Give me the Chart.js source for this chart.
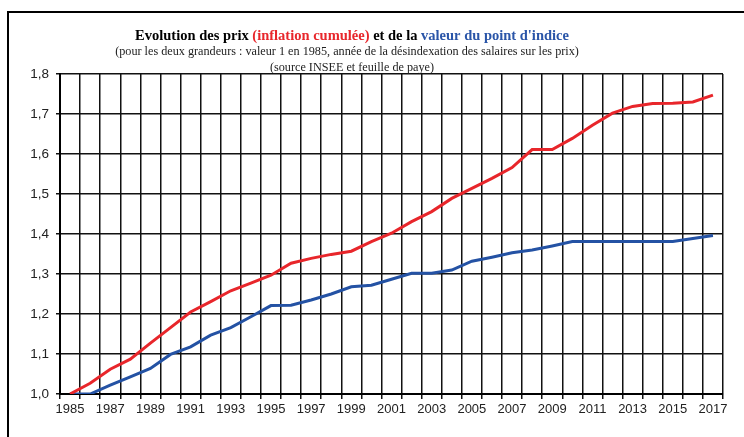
<!DOCTYPE html>
<html>
<head>
<meta charset="utf-8">
<script src="https://cdn.jsdelivr.net/npm/chart.js@4"></script>
<style>
  html, body { margin: 0; padding: 0; background: #fff; }
  #box { width: 744px; height: 437px; }
</style>
</head>
<body>
<div id="box"><canvas id="myChart"></canvas></div>
<script>
Chart.defaults.font.family = "'Liberation Sans', Arial, sans-serif";
Chart.defaults.font.size = 13;
Chart.defaults.color = "#222";

const years = [1985,1986,1987,1988,1989,1990,1991,1992,1993,1994,1995,1996,1997,1998,1999,2000,
  2001,2002,2003,2004,2005,2006,2007,2008,2009,2010,2011,2012,2013,2014,2015,2016,2017];

// prix (inflation cumulee), base 1 en 1985
const prix = [1.000,1.027,1.062,1.087,1.127,1.166,1.205,1.231,1.258,1.277,1.297,1.327,1.339,1.349,1.357,1.381,
  1.402,1.431,1.456,1.489,1.514,1.539,1.566,1.611,1.611,1.639,1.672,1.702,1.719,1.726,1.727,1.730,1.747];

// valeur du point d'indice, base 1 en 1985
const pointIndice = [1.000,1.000,1.022,1.043,1.064,1.099,1.118,1.147,1.166,1.193,1.221,1.222,1.235,1.250,1.268,1.272,
  1.287,1.302,1.302,1.310,1.332,1.342,1.353,1.360,1.370,1.381,1.381,1.381,1.381,1.381,1.381,1.389,1.396];

const yTicks = [1.0,1.1,1.2,1.3,1.4,1.5,1.6,1.7,1.8];

const titleLines = [
  [["Evolution des prix ", "#000"], ["(inflation cumulée)", "#e8262b"], [" et de la ", "#000"], ["valeur du point d'indice", "#2a55a8"]],
  "(pour les deux grandeurs : valeur 1 en 1985, année de la désindexation des salaires sur les prix)",
  "(source INSEE et feuille de paye)"
];

const frameAndTitle = {
  id: 'frameAndTitle',
  afterDraw(chart) {
    const ctx = chart.ctx;
    ctx.save();
    // outer frame (top and left only)
    ctx.strokeStyle = '#000';
    ctx.lineWidth = 2;
    ctx.beginPath();
    ctx.moveTo(8, 437);
    ctx.lineTo(8, 12);
    ctx.lineTo(744, 12);
    ctx.stroke();

    const cx = 352;
    ctx.textBaseline = 'middle';
    // line 1, multi colour
    ctx.font = "bold 14.5px 'Liberation Serif', 'Times New Roman', serif";
    let total = 0;
    titleLines[0].forEach(p => total += ctx.measureText(p[0]).width);
    let x = cx - total / 2;
    ctx.textAlign = 'left';
    titleLines[0].forEach(p => {
      ctx.fillStyle = p[1];
      ctx.fillText(p[0], x, 36);
      x += ctx.measureText(p[0]).width;
    });
    ctx.textAlign = 'center';
    ctx.fillStyle = '#222';
    ctx.font = "12.2px 'Liberation Serif', 'Times New Roman', serif";
    ctx.fillText(titleLines[1], 347, 52);
    ctx.fillText(titleLines[2], cx, 68);
    ctx.restore();
  }
};

const data = {
  labels: years,
  datasets: [{
    label: 'Prix',
    data: prix,
    borderColor: '#e8262b',
    borderWidth: 3,
    pointRadius: 0,
    tension: 0,
    fill: false
  }, {
    label: "Point d'indice",
    data: pointIndice,
    borderColor: '#2452a4',
    borderWidth: 3,
    pointRadius: 0,
    tension: 0,
    fill: false
  }]
};

const chartOptions = {
  responsive: true,
  maintainAspectRatio: false,
  animation: false,
  layout: { padding: { left: 0, right: 21, top: 74, bottom: 0 } },
  plugins: {
    legend: { display: false },
    title: { display: false },
    tooltip: { enabled: false }
  },
  scales: {
    x: {
      type: 'category',
      offset: true,
      afterFit(scale) { scale.height = 43; },
      grid: { offset: true, color: '#111', lineWidth: 1.5, tickLength: 5, drawTicks: true },
      border: { color: '#000', width: 2 },
      ticks: {
        autoSkip: false,
        maxRotation: 0,
        padding: 3,
        color: '#222',
        callback(val, i) { return i % 2 === 0 ? String(years[i]) : ''; }
      }
    },
    y: {
      min: yTicks[0],
      max: yTicks[yTicks.length - 1],
      afterFit(scale) { scale.width = 60; },
      afterBuildTicks(scale) { scale.ticks = yTicks.map(v => ({ value: v })); },
      grid: { color: '#111', lineWidth: 1.5, tickLength: 4 },
      border: { color: '#000', width: 2 },
      ticks: {
        padding: 7,
        color: '#222',
        font: { size: 13.5 },
        callback(v) { return Number(v).toFixed(1).replace('.', ','); }
      }
    }
  }
};

const myChart = new Chart(document.getElementById('myChart'), {
  type: 'line',
  data: data,
  options: chartOptions,
  plugins: [frameAndTitle]
});
</script>
</body>
</html>
